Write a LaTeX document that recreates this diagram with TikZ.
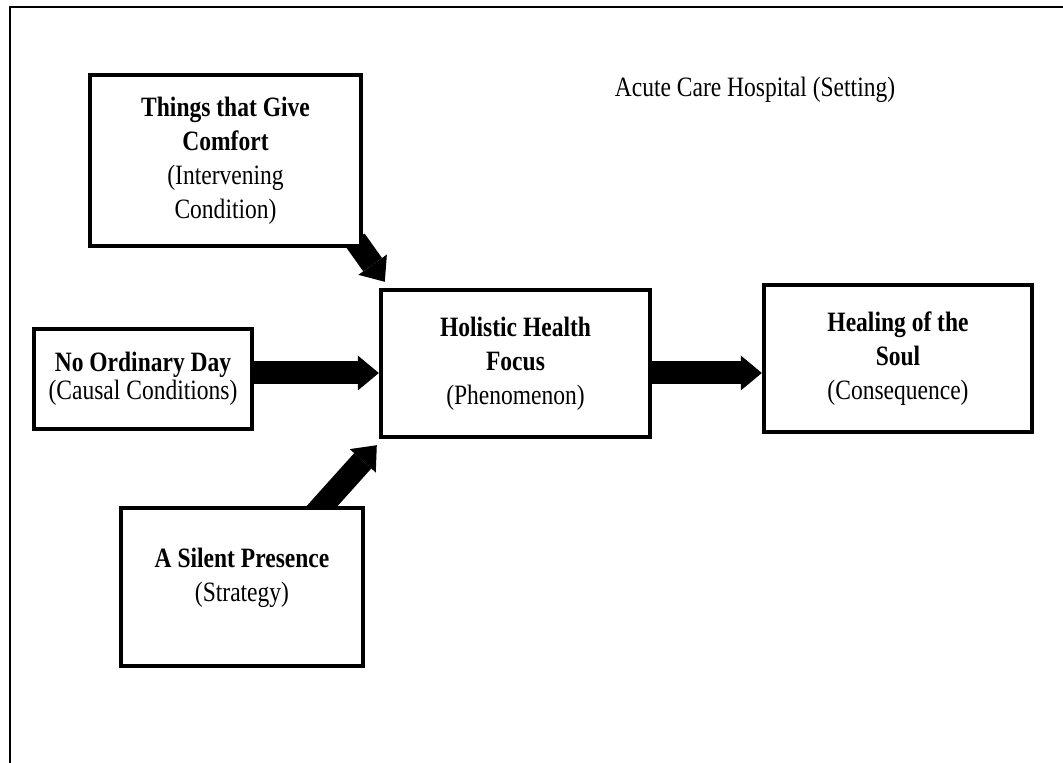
\documentclass[tikz,border=0pt]{standalone}
\usepackage{fontspec}
\setmainfont{Liberation Serif}[FakeStretch=0.84]
\usetikzlibrary{arrows.meta,backgrounds}
\tikzset{>=latex}
\tikzset{
  concept/.style={draw, line width=2.2pt, fill=white, align=center, inner sep=2pt,
    font=\fontsize{14pt}{17pt}\selectfont},
  bigarrow/.style={line width=11.5pt, -{Triangle[length=10.5pt,width=17.5pt,line width=0pt]}}
}
\newcommand{\heading}[1]{\textbf{#1}}

\begin{document}
\begin{tikzpicture}[x=0.5pt, y=-0.5pt]
  \useasboundingbox (0,0) rectangle (1063,763);
  % frame, open at the right and at the bottom
  \draw[line width=1pt] (9.5,763) -- (9.5,7.5) -- (1063,7.5);
  \node[anchor=base, font=\fontsize{14pt}{17pt}\selectfont] (setting) at (755,97) {Acute Care Hospital (Setting)};

  \node[concept, minimum width=135.5pt, minimum height=85.5pt] (things) at (225.5,160.5)
    {\heading{Things that Give}\\\heading{Comfort}\\(Intervening\\Condition)};
  \node[concept, minimum width=109pt, minimum height=50pt, font=\fontsize{14pt}{14pt}\selectfont] (noday) at (143,379)
    {\heading{No Ordinary Day}\\(Causal Conditions)};
  \node[concept, minimum width=134.5pt, minimum height=73.5pt] (holistic) at (515.5,363.5)
    {\heading{Holistic Health}\\\heading{Focus}\\(Phenomenon)};
  \node[concept, minimum width=134pt, minimum height=73.5pt] (healing) at (898,358.5)
    {\heading{Healing of the}\\\heading{Soul}\\(Consequence)};
  \node[concept, minimum width=121pt, minimum height=79pt] (silent) at (242,587)
    {\heading{A Silent Presence}\\(Strategy)\\[-5pt]\mbox{}};

  \begin{scope}[on background layer]
    \draw[bigarrow] ([xshift=-4pt,yshift=4pt]things.south east) -- ([xshift=3pt,yshift=3pt]holistic.north west);
    \draw[bigarrow] ([yshift=3pt]noday.east) coordinate (n1) -- (n1 -| holistic.west);
    \draw[bigarrow] ([yshift=-4.75pt]holistic.east) coordinate (h1) -- (h1 -| healing.west);
    \draw[bigarrow] ([xshift=-25.5pt,yshift=-4.5pt]silent.north east) -- ([xshift=-1pt,yshift=-3pt]holistic.south west);
  \end{scope}
\end{tikzpicture}
\end{document}
